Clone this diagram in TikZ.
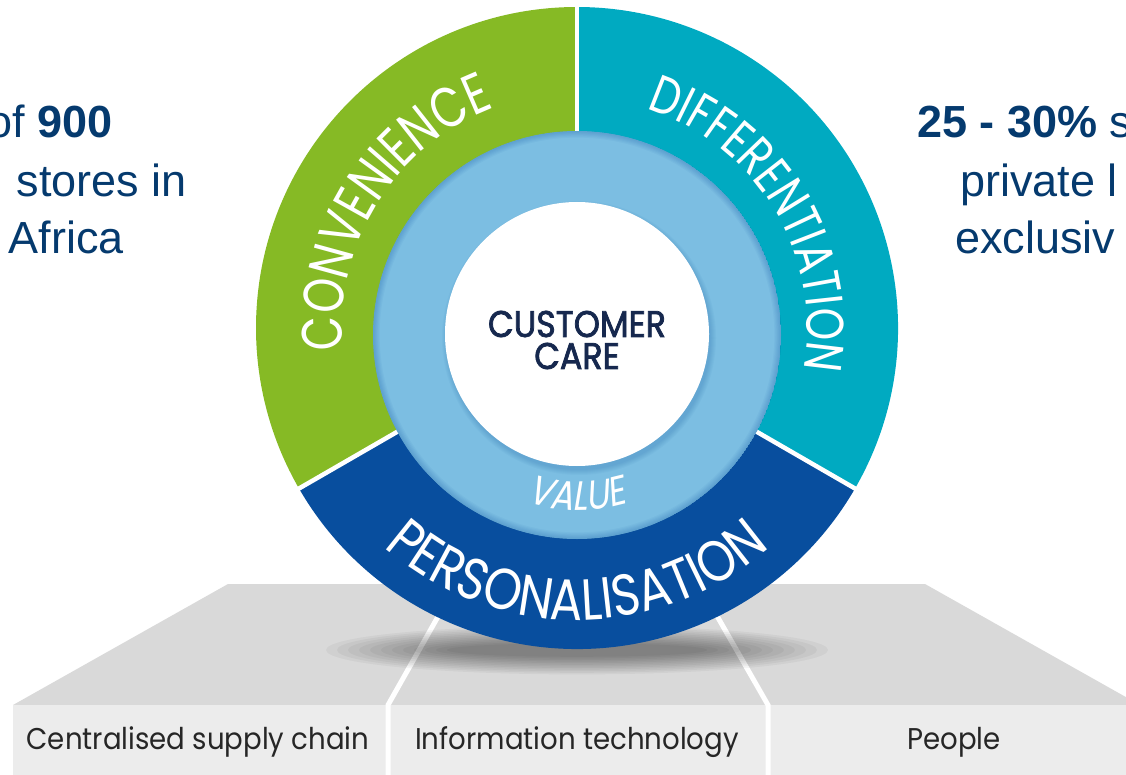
\documentclass[tikz,border=0pt]{standalone}
\usepackage{fontspec}
\setmainfont{Liberation Sans}
\newfontfamily\gothic[FakeStretch=0.78]{Poppins}
\newfontfamily\gothicwide[FakeStretch=0.84]{Poppins}
\newfontfamily\gothicslant[FakeStretch=0.84,FakeSlant=0.18]{Poppins}
\newfontfamily\gothicheavy[FakeStretch=0.9,FakeBold=2]{Poppins}
\newfontfamily\gothicplain[FakeStretch=0.92]{Poppins}
\usetikzlibrary{decorations.text}

\definecolor{convgreen}{RGB}{134,186,37}
\definecolor{diffteal}{RGB}{0,170,193}
\definecolor{persblue}{RGB}{8,78,158}
\definecolor{valueblue}{RGB}{124,190,226}
\definecolor{navytext}{RGB}{5,58,110}
\definecolor{carenavy}{RGB}{22,40,78}
\definecolor{platetop}{RGB}{217,217,217}
\definecolor{platefront}{RGB}{236,236,236}

\tikzset{
  sidetext/.style={font=\fontsize{45}{45}\selectfont, text=navytext, inner sep=0pt},
  pillartext/.style={font=\gothicplain\fontsize{30}{30}\selectfont, text=black!85, inner sep=0pt},
  divider/.style={white, line width=5pt},
  ringtext/.style={decorate, decoration={text along path, text color=white, text align=center, text={#1}}}
}

\begin{document}
\begin{tikzpicture}[x=1pt,y=1pt]
\useasboundingbox (0,0) rectangle (1126,-775);
\clip (0,0) rectangle (1126,-775);

% ---- platform with three pillars ----
\fill[platetop] (228,-584) -- (925,-584) -- (1140,-705) -- (13,-705) -- cycle;
\fill[platefront] (13,-705) rectangle (1140,-780);
\coordinate (dl) at (388,-705);
\coordinate (dr) at (768,-705);
\draw[divider] (388,-780) -- (dl) -- (470,-560);
\draw[divider] (768,-780) -- (dr) -- (685,-560);

% soft shadow under the wheel
\foreach \i in {1,...,12}
  \fill[black, opacity=0.04] (577,-650) ellipse ({262-11*\i} and {26-1.6*\i});

% pillar labels
\node[pillartext] (p1) at (198,-742) {Centralised supply chain};
\node[pillartext] (p2) at (577,-742) {Information technology};
\node[pillartext] (p3) at (954,-742) {People};

% ---- wheel: three outer sectors ----
\coordinate (wc) at (577,-328);
\fill[convgreen] (wc) -- ++(90:321) arc[start angle=90, end angle=210, radius=321] -- cycle;
\fill[diffteal] (wc) -- ++(-30:321) arc[start angle=-30, end angle=90, radius=321] -- cycle;
\fill[persblue] (wc) -- ++(210:321) arc[start angle=210, end angle=330, radius=321] -- cycle;
\foreach \a in {90,210,330}
  \draw[white, line width=4.5pt] (wc) -- ++(\a:330);

% value ring with inner shading at its rim
\coordinate (ic) at (577,-335);
\begin{scope}
  \clip (ic) circle (204);
  \fill[valueblue] (ic) circle (204);
  \foreach \i in {1,...,6}
    \draw[persblue, opacity=0.045, line width={2.2*\i pt}] (ic) circle (204);
\end{scope}

% centre disc with a soft drop shadow
\foreach \i in {1,...,6}
  \fill[persblue, opacity=0.035] (579,-338) circle ({131+\i});
\fill[white] (577,-334) circle (132);

% ring labels
\path[ringtext={|\gothic\fontsize{57}{57}\selectfont|CONVENIENCE}]
  ([shift={(577,-328)}]208:235) arc[start angle=208, end angle=88, radius=235];
\path[ringtext={|\gothic\fontsize{53}{53}\selectfont|DIFFERENTIATION}]
  ([shift={(577,-328)}]101:230) arc[start angle=101, end angle=-39, radius=230];
\path[ringtext={|\gothicwide\fontsize{58}{58}\selectfont|PERSONALISATION}]
  ([shift={(577,-328)}]200:292) arc[start angle=200, end angle=340, radius=292];
\path[ringtext={|\gothicslant\fontsize{41}{41}\selectfont|VALUE}]
  ([shift={(577,-335)}]230:175) arc[start angle=230, end angle=310, radius=175];

\node[font=\gothicheavy\fontsize{37}{37}\selectfont, text=carenavy, align=center, inner sep=0pt] (care) at (577,-340) {CUSTOMER\\[-5pt]CARE};

% ---- side statements ----
\node[sidetext, anchor=base east] (l1) at (113,-138) {of \textbf{900}};
\node[sidetext, anchor=base east] (l2) at (187,-197) {stores in};
\node[sidetext, anchor=base east] (l3) at (124,-254) {Africa};
\node[sidetext, anchor=base west] (r1) at (917,-138) {\textbf{25 - 30\%} s};
\node[sidetext, anchor=base west] (r2) at (960,-197) {private l};
\node[sidetext, anchor=base west] (r3) at (955,-254) {exclusiv};
\end{tikzpicture}
\end{document}
